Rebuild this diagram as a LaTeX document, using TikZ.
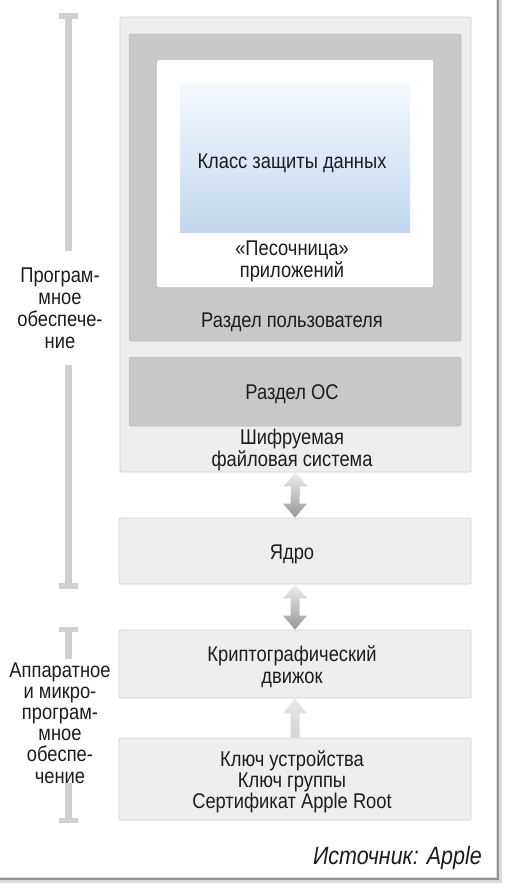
\documentclass[tikz,border=0pt]{standalone}
\usepackage{fontspec}
\setmainfont[FakeStretch=0.86]{Liberation Sans}
\usetikzlibrary{calc}
\definecolor{boxfill}{HTML}{EEEEEE}
\definecolor{boxline}{HTML}{D3D3D3}
\definecolor{darkfill}{HTML}{C9C7CA}
\definecolor{bluetop}{HTML}{F5F9FD}
\definecolor{bluebot}{HTML}{C2D7EE}
\definecolor{barcol}{HTML}{D0CFD1}
\definecolor{txt}{HTML}{1C1C1C}
\definecolor{arrtop}{HTML}{EEEEEE}
\definecolor{arrbot}{HTML}{989898}
\begin{document}
\begin{tikzpicture}[x=1pt,y=-1pt,
  lightbox/.style={draw=boxline, line width=0.8pt, fill=boxfill, rounded corners=2pt, inner sep=0pt},
  darkbox/.style={draw=darkfill!92!black, line width=0.5pt, fill=darkfill, rounded corners=2pt, inner sep=0pt},
  whitebox/.style={fill=white, rounded corners=1.5pt, inner sep=0pt},
  lbl/.style={font=\fontsize{21.3}{21.5}\selectfont, text=txt, align=center, inner sep=0pt, anchor=base},
  bar/.style={fill=barcol}]
\useasboundingbox (0,0) rectangle (508,892);
\fill[white] (0,0) rectangle (508,892);
% frame shadow
\fill[black!14] (0,0) rectangle (501.5,882.5);
\fill[white] (0,0) rectangle (496,877);
\draw[black!42, line width=1.6pt] (498.2,0) -- (498.2,879.2) -- (0,879.2);
% boxes
\node[lightbox, minimum width=351pt, minimum height=455pt] (fs) at (295.5,244.5) {};
\node[darkbox, minimum width=332pt, minimum height=307pt] (user) at (295,187.5) {};
\node[whitebox, minimum width=276pt, minimum height=227pt] (sandbox) at (295,173.5) {};
\node[inner sep=0pt, minimum width=230pt, minimum height=149pt, top color=bluetop, bottom color=bluebot] (dpc) at (295,157.5) {};
\node[darkbox, minimum width=332pt, minimum height=69pt] (os) at (295,391.5) {};
\node[lightbox, minimum width=352pt, minimum height=66pt] (kernel) at (295,551) {};
\node[lightbox, minimum width=352pt, minimum height=68pt] (crypto) at (295,664) {};
\node[lightbox, minimum width=352pt, minimum height=82pt] (keys) at (295,779) {};
% texts (anchor base = baseline of the last line)
\node[lbl] (tdpc) at (292,168.5) {Класс защиты данных};
\node[lbl] (tsand) at (292,277) {«Песочница»\\приложений};
\node[lbl] (tuser) at (292,327) {Раздел пользователя};
\node[lbl] (tos) at (292,399) {Раздел ОС};
\node[lbl, font=\fontsize{21.3}{18}\selectfont] (tfs) at (292,466) {Шифруемая\\файловая система};
\node[lbl] (tkern) at (292,559) {Ядро};
\node[lbl, font=\fontsize{21.3}{22}\selectfont] (tcrypt) at (292,683) {Криптографический\\движок};
\node[lbl, font=\fontsize{21.3}{21}\selectfont] (tkeys) at (292,808) {Ключ устройства\\Ключ группы\\Сертификат Apple Root};
\node[lbl, anchor=base east, font=\fontsize{25}{25}\selectfont\itshape] (src) at (482,864) {Источник: Apple};
% arrows
\shade[top color=arrtop, bottom color=arrbot] (fs.south) -- ++(12,14) -- ++(-7.5,0) -- ($(kernel.north)+(4.5,-14)$) -- ++(7.5,0) -- (kernel.north) -- ++(-12,-14) -- ++(7.5,0) -- ($(fs.south)+(-4.5,14)$) -- ++(-7.5,0) -- cycle;
\shade[top color=arrtop, bottom color=arrbot] (kernel.south) -- ++(12,14) -- ++(-7.5,0) -- ($(crypto.north)+(4.5,-14)$) -- ++(7.5,0) -- (crypto.north) -- ++(-12,-14) -- ++(7.5,0) -- ($(kernel.south)+(-4.5,14)$) -- ++(-7.5,0) -- cycle;
\shade[top color=black!9, bottom color=black!17] (crypto.south) -- ++(12,15) -- ++(-7.5,0) -- ($(keys.north)+(4.5,0)$) -- ($(keys.north)+(-4.5,0)$) -- ($(crypto.south)+(-4.5,15)$) -- ++(-7.5,0) -- cycle;
% bars
\fill[bar] (59,13) rectangle (78,19);
\fill[bar] (65,13) rectangle (72,251);
\fill[bar] (65,365) rectangle (72,589);
\fill[bar] (59,583) rectangle (78,589);
\fill[bar] (59,627) rectangle (78,632);
\fill[bar] (65,627) rectangle (72,659);
\fill[bar] (65,783) rectangle (72,823);
\fill[bar] (59,818) rectangle (78,823);
% side labels
\node[lbl, font=\fontsize{21.3}{21.7}\selectfont] (sw) at (60,348) {Програм-\\мное\\обеспече-\\ние};
\node[lbl, font=\fontsize{21.3}{21.2}\selectfont] (hw) at (60,783) {Аппаратное\\и микро-\\програм-\\мное\\обеспе-\\чение};
\end{tikzpicture}
\end{document}
